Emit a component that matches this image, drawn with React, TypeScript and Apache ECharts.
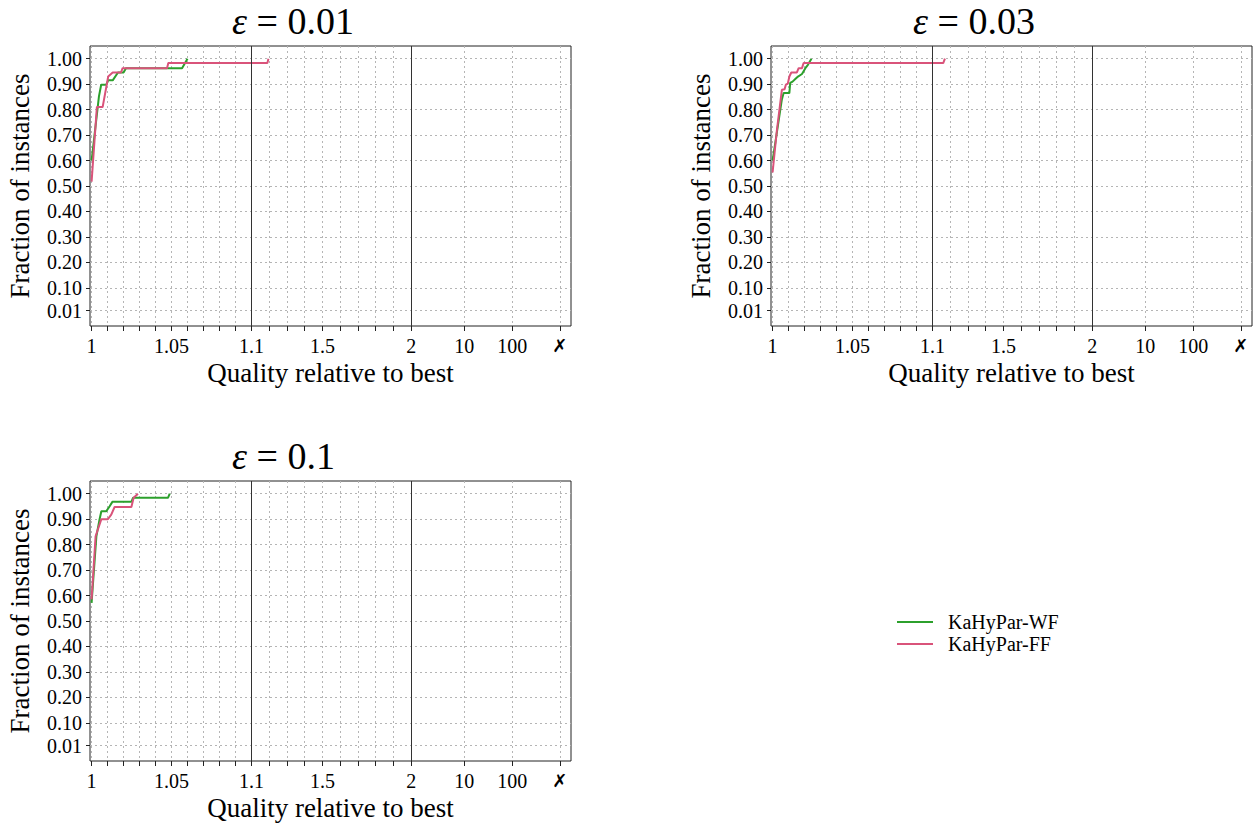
import React, { useEffect, useRef } from 'react';
import * as echarts from 'echarts';

// ---------- data ----------
const PANEL_EPS = ['0.01', '0.03', '0.1'];
const SERIES_NAMES = ['KaHyPar-WF', 'KaHyPar-FF'];
const COLORS = ['#2ca02c', '#d9537a'];

// eps = 0.01
const P1_WF_RATIO = [1.0, 1.0046, 1.006, 1.0092, 1.0104, 1.0132, 1.0165, 1.02, 1.0215, 1.0566, 1.06];
const P1_WF_FRAC = [0.6, 0.852, 0.898, 0.898, 0.915, 0.915, 0.946, 0.946, 0.963, 0.963, 1.0];
const P1_FF_RATIO = [1.0, 1.0033, 1.0069, 1.0104, 1.0132, 1.0184, 1.0194, 1.0472, 1.048, 1.19, 1.196];
const P1_FF_FRAC = [0.517, 0.81, 0.81, 0.93, 0.946, 0.946, 0.963, 0.963, 0.983, 0.983, 1.0];

// eps = 0.03
const P2_WF_RATIO = [1.0, 1.0058, 1.0069, 1.0105, 1.011, 1.0125, 1.0142, 1.0159, 1.0184, 1.0205, 1.0221, 1.0243];
const P2_WF_FRAC = [0.6, 0.84, 0.865, 0.865, 0.905, 0.91, 0.92, 0.93, 0.94, 0.963, 0.976, 1.0];
const P2_FF_RATIO = [1.0, 1.0027, 1.0058, 1.0075, 1.0083, 1.0095, 1.0105, 1.0117, 1.0152, 1.0163, 1.0184, 1.0194, 1.161, 1.1706];
const P2_FF_FRAC = [0.553, 0.72, 0.878, 0.88, 0.898, 0.902, 0.93, 0.946, 0.946, 0.963, 0.963, 0.983, 0.983, 1.0];

// eps = 0.1
const P3_WF_RATIO = [1.0, 1.0017, 1.003, 1.005, 1.0061, 1.0092, 1.0113, 1.013, 1.0249, 1.0259, 1.0478, 1.0489];
const P3_WF_FRAC = [0.571, 0.72, 0.833, 0.9, 0.931, 0.931, 0.951, 0.968, 0.968, 0.984, 0.984, 1.0];
const P3_FF_RATIO = [1.0, 1.0025, 1.0061, 1.0102, 1.0123, 1.0144, 1.0249, 1.0263, 1.029];
const P3_FF_FRAC = [0.585, 0.833, 0.9, 0.9, 0.918, 0.948, 0.948, 0.984, 1.0];

const X_GRID_RATIOS = [
  1, 1.01, 1.02, 1.03, 1.04, 1.05, 1.06, 1.07, 1.08, 1.09, 1.1,
  1.2, 1.3, 1.4, 1.5, 1.6, 1.7, 1.8, 1.9, 2, 10, 100,
];
const X_LABEL_RATIOS = [1, 1.05, 1.1, 1.5, 2, 10, 100];
const X_LABELS = ['1', '1.05', '1.1', '1.5', '2', '10', '100'];
const INFEASIBLE_LABEL = '✗';
const SEPARATOR_RATIOS = [1.1, 2];
const Y_TICKS = [0.01, 0.1, 0.2, 0.3, 0.4, 0.5, 0.6, 0.7, 0.8, 0.9, 1.0];

// ---------- piecewise axis scale ----------
const INF_POS = 2.93;
function toAxis(r: number): number {
  if (r <= 1.1) return (r - 1) / 0.1;
  if (r <= 2) return 1 + (r - 1.1) / 0.9;
  return 2.031 + 0.301 * Math.log10(r);
}

const FONT = 'Liberation Serif';

const PANELS = [
  { eps: PANEL_EPS[0], wf: [P1_WF_RATIO, P1_WF_FRAC], ff: [P1_FF_RATIO, P1_FF_FRAC], left: 90, top: 46, titleLeft: 232 },
  { eps: PANEL_EPS[1], wf: [P2_WF_RATIO, P2_WF_FRAC], ff: [P2_FF_RATIO, P2_FF_FRAC], left: 771, top: 46, titleLeft: 913 },
  { eps: PANEL_EPS[2], wf: [P3_WF_RATIO, P3_WF_FRAC], ff: [P3_FF_RATIO, P3_FF_FRAC], left: 90, top: 481, titleLeft: 232 },
];

function buildOption() {
  const tickPos = [...X_GRID_RATIOS.map(toAxis), INF_POS];
  const labelPos = [...X_LABEL_RATIOS.map(toAxis), INF_POS];
  const labelText = [...X_LABELS, INFEASIBLE_LABEL];
  const fmtX = (v: number) => {
    for (let i = 0; i < labelPos.length; i++) {
      if (Math.abs(labelPos[i] - v) < 1e-6) {
        return labelText[i] === INFEASIBLE_LABEL ? '{x|' + INFEASIBLE_LABEL + '}' : labelText[i];
      }
    }
    return '';
  };

  const grids: any[] = [];
  const xAxes: any[] = [];
  const yAxes: any[] = [];
  const series: any[] = [];
  const titles: any[] = [];

  PANELS.forEach((p, i) => {
    grids.push({
      left: p.left, top: p.top, width: 481, height: 280,
      show: true, borderColor: '#222', borderWidth: 1, backgroundColor: 'transparent',
      containLabel: false,
    });
    titles.push({
      text: '{e|ε}{n| = ' + p.eps + '}',
      left: p.titleLeft, top: p.top - 44, padding: 0,
      textStyle: {
        fontFamily: FONT, fontSize: 38, fontWeight: 'normal', color: '#000',
        rich: {
          e: { fontFamily: FONT, fontStyle: 'italic', fontWeight: 'normal', fontSize: 38, color: '#000' },
          n: { fontFamily: FONT, fontWeight: 'normal', fontSize: 38, color: '#000' },
        },
      },
    });
    xAxes.push({
      type: 'value', gridIndex: i, min: -0.01, max: 3.0,
      name: 'Quality relative to best', nameLocation: 'middle', nameGap: 33,
      nameTextStyle: { fontFamily: FONT, fontSize: 27, color: '#000' },
      axisLine: { show: false, onZero: false },
      axisTick: { show: true, length: 5, inside: false, customValues: tickPos, lineStyle: { color: '#222' } },
      axisLabel: {
        customValues: labelPos, formatter: fmtX, margin: 10, hideOverlap: false,
        fontFamily: FONT, fontSize: 20, color: '#000',
        rich: { x: { fontFamily: 'DejaVu Sans', fontWeight: 'bold', fontSize: 18, color: '#000' } },
      },
      splitLine: { show: true, lineStyle: { color: '#b5b5b5', type: [2, 3], width: 1 } },
    });
    yAxes.push({
      type: 'value', gridIndex: i, min: -0.05, max: 1.05,
      name: 'Fraction of instances', nameLocation: 'middle', nameGap: 57,
      nameTextStyle: { fontFamily: FONT, fontSize: 27, color: '#000' },
      axisLine: { show: false, onZero: false },
      axisTick: { show: true, length: 4, customValues: Y_TICKS, lineStyle: { color: '#222' } },
      axisLabel: {
        customValues: Y_TICKS, formatter: (v: number) => v.toFixed(2), margin: 8,
        fontFamily: FONT, fontSize: 20, color: '#000',
      },
      splitLine: { show: true, lineStyle: { color: '#b5b5b5', type: [2, 3], width: 1 } },
    });
    [p.wf, p.ff].forEach((d, k) => {
      const [rs, fs] = d;
      series.push({
        type: 'line', name: SERIES_NAMES[k], xAxisIndex: i, yAxisIndex: i,
        data: rs.map((r, j) => [toAxis(r), fs[j]]),
        symbol: 'none', showSymbol: false, color: COLORS[k],
        lineStyle: { color: COLORS[k], width: 2 },
        z: 3 + k,
        markLine: k === 0 ? {
          silent: true, symbol: 'none', label: { show: false },
          lineStyle: { color: '#333', type: 'solid', width: 1 },
          data: SEPARATOR_RATIOS.map((r) => ({ xAxis: toAxis(r) })),
        } : undefined,
      });
    });
  });

  return {
    animation: false,
    backgroundColor: '#fff',
    title: titles,
    grid: grids,
    xAxis: xAxes,
    yAxis: yAxes,
    series,
    legend: {
      data: SERIES_NAMES, orient: 'vertical', left: 892, top: 607,
      itemWidth: 36, itemHeight: 2, itemGap: 2,
      icon: 'rect',
      textStyle: { fontFamily: FONT, fontSize: 20, color: '#000', padding: [0, 0, 0, 10] },
    },
  };
}

export default function App() {
  const ref = useRef<HTMLDivElement>(null);
  useEffect(() => {
    if (!ref.current) return;
    const chart = echarts.init(ref.current, undefined, { renderer: 'svg' });
    chart.setOption(buildOption() as any);
    return () => chart.dispose();
  }, []);
  return <div ref={ref} style={{ position: 'fixed', left: 0, top: 0, width: 1256, height: 825 }} />;
}
